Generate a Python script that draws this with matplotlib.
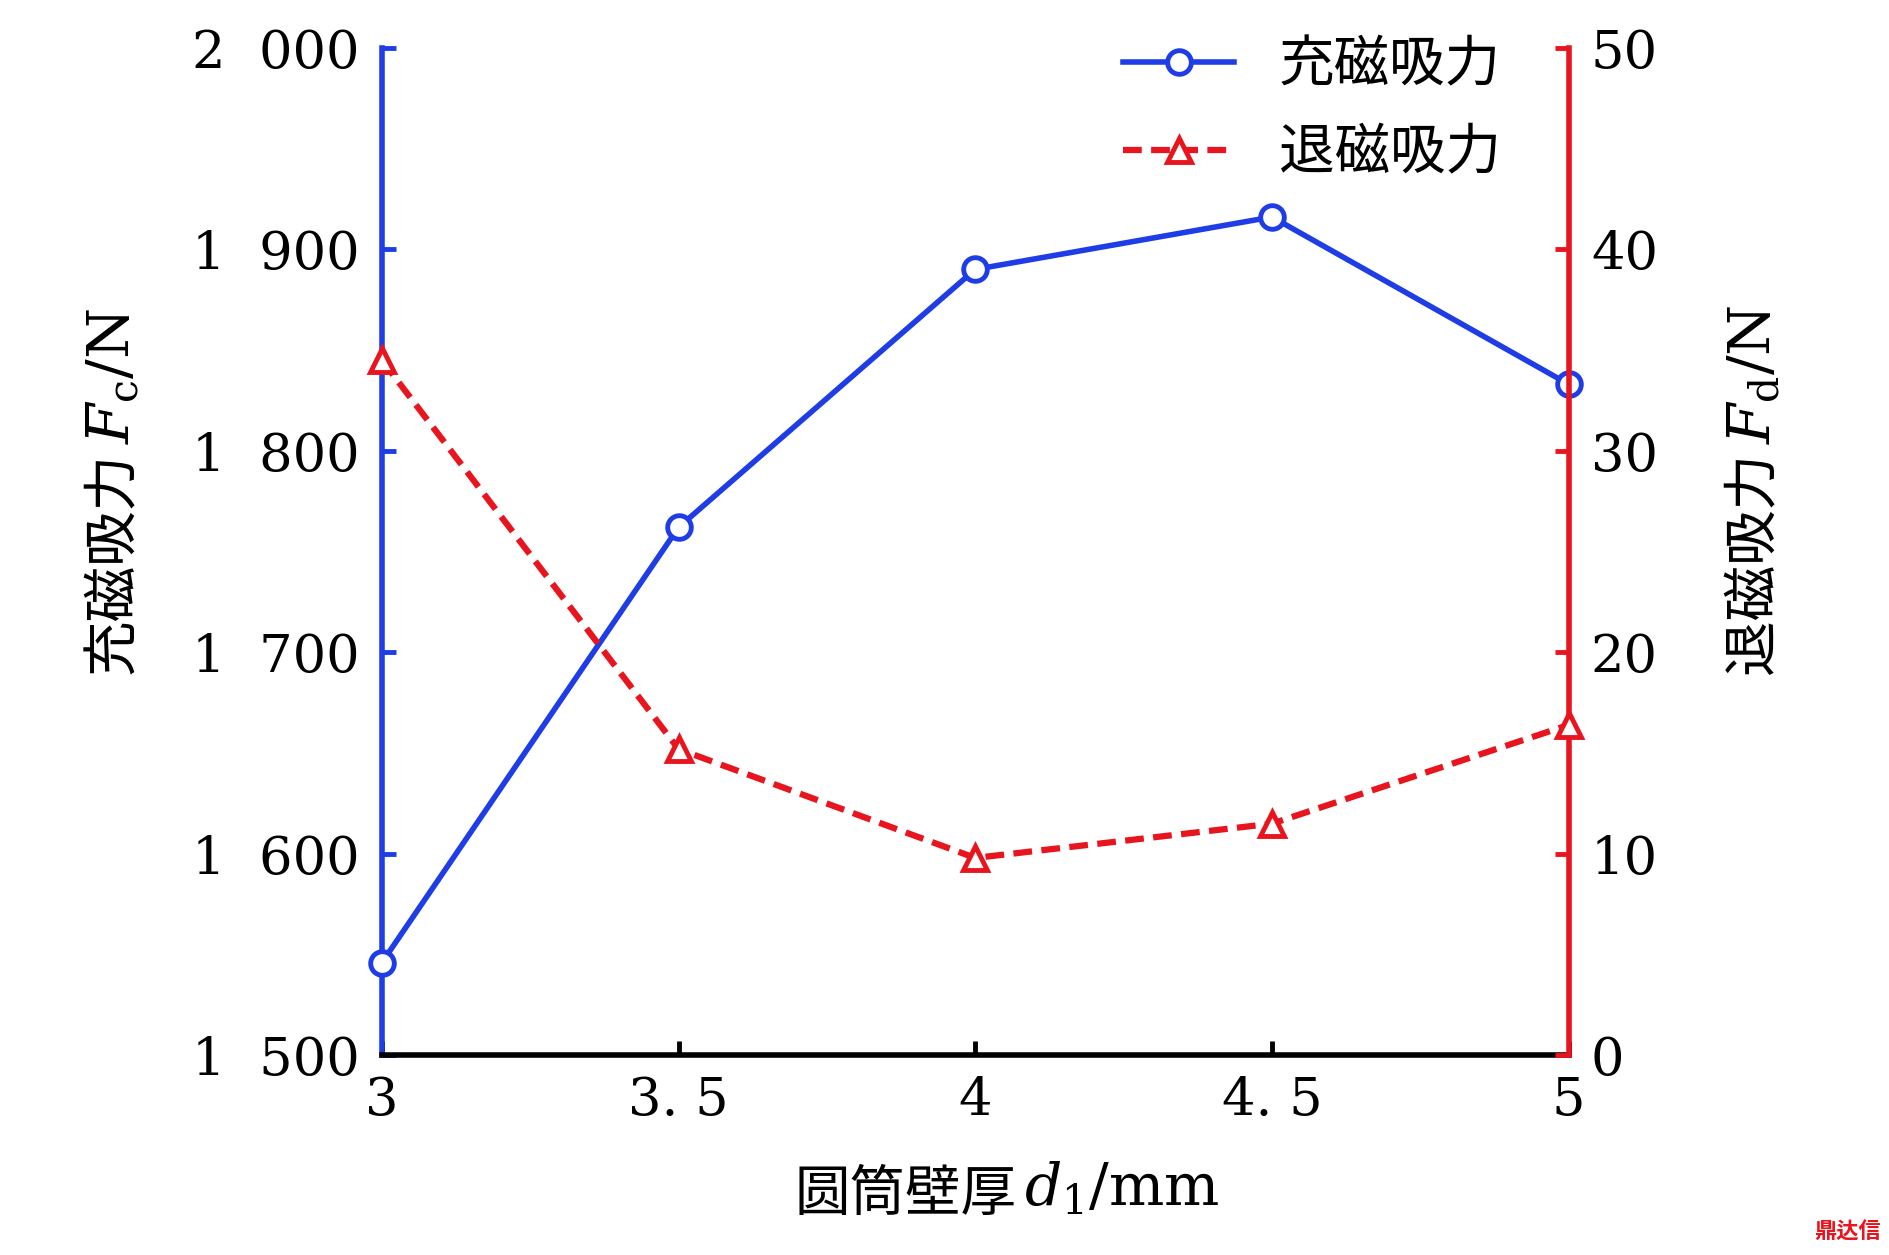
import matplotlib
matplotlib.use('Agg')
import matplotlib.pyplot as plt
from matplotlib.ticker import FuncFormatter
from matplotlib.font_manager import FontProperties

plt.rcParams['font.family'] = 'DejaVu Serif'
plt.rcParams['mathtext.fontset'] = 'dejavuserif'

# Data
thickness = [3, 3.5, 4, 4.5, 5]
charge_force = [1546, 1762, 1890, 1916, 1833]
discharge_force = [34.5, 15.2, 9.8, 11.5, 16.4]

x_ticks = [3, 3.5, 4, 4.5, 5]
x_tick_labels = ['3', '3. 5', '4', '4. 5', '5']
left_ticks = [1500, 1600, 1700, 1800, 1900, 2000]
right_ticks = [0, 10, 20, 30, 40, 50]

BLUE = '#1f3de6'
RED = '#e8141e'
FS = 38
CJK = 'Noto Sans CJK JP'

fig = plt.figure(figsize=(18.9, 12.55), dpi=100)
ax = fig.add_axes([0.202, 0.159, 0.628, 0.803])
ax2 = ax.twinx()

l1, = ax.plot(thickness, charge_force, color=BLUE, lw=4, marker='o', ms=17,
              mfc='white', mec=BLUE, mew=3.5, clip_on=False, zorder=5)
l2, = ax2.plot(thickness, discharge_force, color=RED, lw=4.5, ls='--', dashes=(3, 1.5),
               marker='^', ms=17, mfc='white', mec=RED, mew=3.5,
               clip_on=False, zorder=5)

ax.set_xlim(3, 5)
ax.set_ylim(1500, 2000)
ax2.set_ylim(0, 50)
ax.set_xticks(x_ticks)
ax.set_xticklabels(x_tick_labels)
ax.set_yticks(left_ticks)
ax.yaxis.set_major_formatter(FuncFormatter(lambda v, _: f'{int(v) // 1000}  {int(v) % 1000:03d}'))
ax2.set_yticks(right_ticks)

ax.spines['top'].set_visible(False)
ax2.spines['top'].set_visible(False)
ax.spines['left'].set_color(BLUE)
ax.spines['left'].set_linewidth(4)
ax2.spines['right'].set_color(RED)
ax2.spines['right'].set_linewidth(4)
ax2.spines['left'].set_visible(False)
ax.spines['right'].set_visible(False)
ax.spines['bottom'].set_linewidth(4)
ax2.spines['bottom'].set_visible(False)

ax.tick_params(axis='y', direction='in', colors='black', labelsize=FS, length=10, width=3.5,
               color=BLUE, pad=16)
ax.tick_params(axis='x', direction='in', labelsize=FS, length=10, width=3.5, pad=14)
ax2.tick_params(axis='y', direction='in', labelsize=FS, length=10, width=3.5, color=RED, pad=16)

# Chinese part of axis labels in CJK font, symbol part in serif mathtext
fig.text(0.538, 0.025, '圆筒壁厚', fontsize=FS + 2, fontfamily=CJK, ha='right', va='bottom')
fig.text(0.542, 0.03, r'$d_1$/mm', fontsize=FS + 4, ha='left', va='bottom')
fig.text(0.06, 0.64, '充磁吸力', fontsize=FS + 2, fontfamily=CJK, rotation=90,
         ha='center', va='top')
fig.text(0.06, 0.646, r'$F_\mathrm{c}$/N', fontsize=FS + 4, rotation=90, ha='center', va='bottom')
fig.text(0.928, 0.64, '退磁吸力', fontsize=FS + 2, fontfamily=CJK, rotation=90,
         ha='center', va='top')
fig.text(0.928, 0.646, r'$F_\mathrm{d}$/N', fontsize=FS + 4, rotation=90, ha='center', va='bottom')

ax.legend([l1, l2], ['充磁吸力', '退磁吸力'], loc='upper right', bbox_to_anchor=(0.985, 1.06),
          frameon=False, prop=FontProperties(family=CJK, size=FS + 2),
          handlelength=2.0, labelspacing=0.55)

fig.text(0.995, 0.01, '鼎达信', color=RED, fontsize=16, ha='right', va='bottom',
         fontfamily=CJK, fontweight='bold')

fig.savefig('out.png', dpi=100)
